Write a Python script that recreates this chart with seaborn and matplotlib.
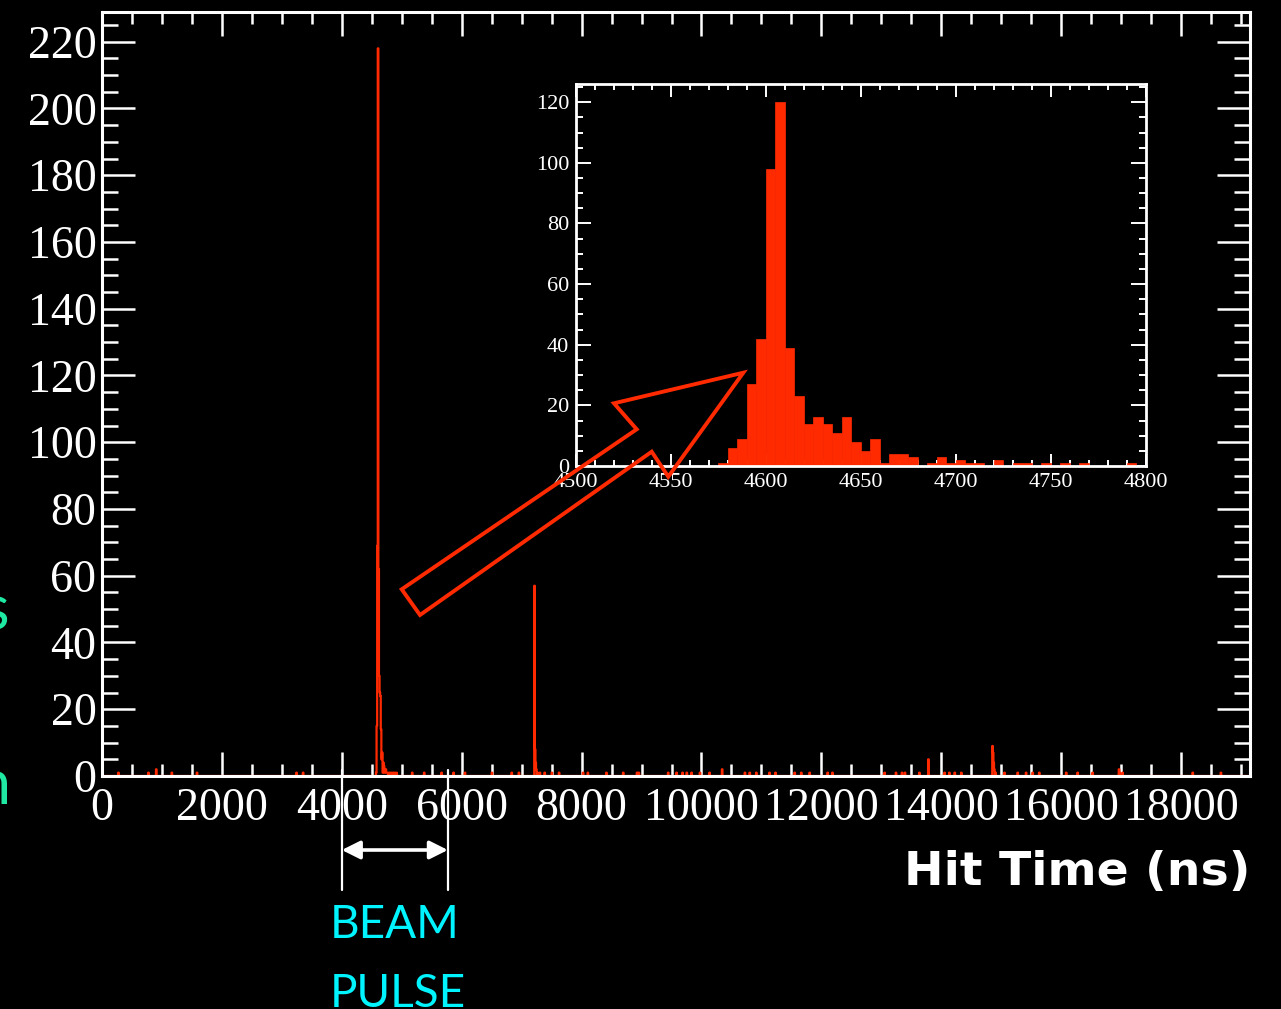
import numpy as np
import pandas as pd
import matplotlib
matplotlib.use("Agg")
import matplotlib.pyplot as plt
from matplotlib.patches import Polygon, FancyArrowPatch
from matplotlib.ticker import MultipleLocator
from matplotlib.transforms import blended_transform_factory
import seaborn as sns

# ---- data -------------------------------------------------------------
# full-range spectrum: lower edges of the non-empty 10 ns bins and their counts
main_time_ns = [
    270, 770, 900, 1160, 1580, 3240, 3350,
    4570, 4580, 4590, 4600, 4610, 4620, 4630, 4640, 4650, 4660, 4670, 4680,
    4690, 4700, 4710, 4720, 4730, 4740, 4750, 4760, 4790,
    4820, 4850, 4880, 4910,
    5170, 5370, 5660, 5860, 6050, 6500, 6830, 6950,
    7210, 7220, 7230, 7240, 7260, 7300, 7380, 7500, 7620,
    8020, 8100, 8410, 8690, 8920, 8950, 9440, 9580, 9680, 9750, 9830, 9970,
    10130, 10340, 10720, 10800, 10910, 11130, 11230, 11550, 11660, 11800,
    12100, 12180, 13050, 13240, 13340, 13390, 13630, 13780,
    14050, 14130, 14220, 14330, 14850, 14860, 14870, 14880, 14900,
    15050, 15270, 15410, 15520, 15630, 16080, 16270, 16520,
    16960, 16970, 17020, 18190, 18660,
]
main_counts = [
    1, 1, 2, 1, 1, 1, 1,
    1, 15, 69, 218, 62, 30, 25, 24, 14, 5, 7, 1,
    4, 3, 1, 2, 2, 1, 1, 1, 1,
    1, 1, 1, 1,
    1, 1, 1, 1, 1, 1, 1, 1,
    57, 8, 4, 2, 1, 1, 1, 1, 1,
    1, 1, 1, 1, 1, 1, 1, 1, 1, 1, 1, 1,
    1, 2, 1, 1, 1, 1, 1, 1, 1, 1,
    1, 1, 1, 1, 1, 1, 1, 5,
    1, 1, 1, 1, 9, 7, 4, 2, 1,
    1, 1, 1, 1, 1, 1, 1, 1,
    2, 1, 1, 1, 1,
]

# zoom on the beam peak: lower edges of the non-empty 5 ns bins and counts
inset_time_ns = [
    4575, 4580, 4585, 4590, 4595, 4600, 4605, 4610, 4615, 4620, 4625, 4630,
    4635, 4640, 4645, 4650, 4655, 4660, 4665, 4670, 4675, 4685, 4690, 4695,
    4700, 4705, 4710, 4720, 4730, 4735, 4745, 4755, 4765, 4790,
]
inset_counts = [
    1, 6, 9, 27, 42, 98, 120, 39, 23, 14, 16, 14,
    11, 16, 8, 5, 9, 1, 4, 4, 3, 1, 3, 1,
    2, 1, 1, 2, 1, 1, 1, 1, 1, 1,
]

x_ticks_main = [0, 2000, 4000, 6000, 8000, 10000, 12000, 14000, 16000, 18000]
y_ticks_main = [0, 20, 40, 60, 80, 100, 120, 140, 160, 180, 200, 220]
x_ticks_inset = [4500, 4550, 4600, 4650, 4700, 4750, 4800]
y_ticks_inset = [0, 20, 40, 60, 80, 100, 120]

beam_window_ns = [4000, 5770]

# ---- style ------------------------------------------------------------
sns.set_theme(style="ticks")
plt.rcParams.update({
    "figure.facecolor": "black",
    "axes.facecolor": "black",
    "savefig.facecolor": "black",
    "axes.edgecolor": "white",
    "xtick.color": "white",
    "ytick.color": "white",
    "text.color": "white",
})
plt.rcParams["font.family"] = ["Liberation Serif", "DejaVu Serif"]

RED = "#ff2a00"
W, H = 1281, 1009


def fx(px):
    return px / W


def fy(py):
    return 1 - py / H


fig = plt.figure(figsize=(W / 100, H / 100), dpi=100)

# ---- main histogram ---------------------------------------------------
main_df = pd.DataFrame({"t": np.asarray(main_time_ns, float) + 5.0,
                        "n": np.asarray(main_counts, float)})
ax = fig.add_axes([fx(102), fy(776), fx(1250) - fx(102), fy(12) - fy(776)])
main_edges = [float(e) for e in np.arange(0, 19210, 10)]
sns.histplot(data=main_df, x="t", weights="n", bins=main_edges,
             element="step", fill=False, color=RED, linewidth=1.6, ax=ax)
ax.set_xlim(0, 19150)
ax.set_ylim(0, 228.9)
ax.set_xlabel("")
ax.set_ylabel("")
ax.set_xticks(x_ticks_main)
ax.set_yticks(y_ticks_main)
ax.xaxis.set_minor_locator(MultipleLocator(500))
ax.yaxis.set_minor_locator(MultipleLocator(5))
for s in ax.spines.values():
    s.set_visible(True)
    s.set_linewidth(2.2)
    s.set_color("white")
ax.tick_params(which="both", direction="in", top=True, right=True, colors="white")
ax.tick_params(axis="x", which="major", length=17, width=1.8, labelsize=33, pad=8)
ax.tick_params(axis="x", which="minor", length=8.6, width=1.8)
ax.tick_params(axis="y", which="major", length=23.5, width=1.8, labelsize=33, pad=4)
ax.tick_params(axis="y", which="minor", length=11.5, width=1.8)

# ---- inset: 5 ns bins around the beam peak ----------------------------
inset_df = pd.DataFrame({"t": np.asarray(inset_time_ns, float) + 2.5,
                         "n": np.asarray(inset_counts, float)})
axin = fig.add_axes([fx(576), fy(466), fx(1146) - fx(576), fy(84) - fy(466)])
inset_edges = [float(e) for e in np.arange(4500, 4805, 5)]
sns.histplot(data=inset_df, x="t", weights="n", bins=inset_edges,
             element="bars", fill=True, color=RED, alpha=1.0,
             edgecolor=RED, linewidth=0.5, ax=axin)
axin.set_xlim(4500, 4800)
axin.set_ylim(0, 126)
axin.set_xlabel("")
axin.set_ylabel("")
axin.set_xticks(x_ticks_inset)
axin.set_yticks(y_ticks_inset)
axin.xaxis.set_minor_locator(MultipleLocator(10))
axin.yaxis.set_minor_locator(MultipleLocator(5))
for s in axin.spines.values():
    s.set_visible(True)
    s.set_linewidth(2.0)
    s.set_color("white")
axin.tick_params(which="both", direction="in", top=True, right=True, colors="white")
axin.tick_params(axis="x", which="major", length=9, width=1.4, labelsize=16, pad=5)
axin.tick_params(axis="x", which="minor", length=4.5, width=1.4)
axin.tick_params(axis="y", which="major", length=10.8, width=1.4, labelsize=16, pad=5)
axin.tick_params(axis="y", which="minor", length=5, width=1.4)

# ---- hollow arrow pointing from the peak to the zoom ------------------
arrow_px = [(401.7, 589.3), (636.7, 429.3), (614.0, 403.3), (743.3, 372.7),
            (668.3, 476.7), (651.7, 451.7), (420.0, 615.0)]
arrow = Polygon([(fx(x), fy(y)) for x, y in arrow_px], closed=True, fill=False,
                edgecolor=RED, linewidth=2.8, joinstyle="miter",
                transform=fig.transFigure, zorder=20)
fig.add_artist(arrow)

# ---- axis title -------------------------------------------------------
fig.text(fx(1250), fy(885), "Hit Time (ns)", ha="right", va="baseline",
         fontsize=34, fontweight="bold", color="white", family=["DejaVu Sans"])

# ---- beam pulse window marker -----------------------------------------
tr = blended_transform_factory(ax.transData, fig.transFigure)
for xb in beam_window_ns:
    ax.plot([xb, xb], [fy(770), fy(890)], color="white", lw=1.6,
            transform=tr, clip_on=False, zorder=10)
ax.add_patch(FancyArrowPatch((beam_window_ns[0], fy(850)), (beam_window_ns[1], fy(850)),
                             arrowstyle="<|-|>,head_length=11,head_width=5.5",
                             color="white", lw=2.6, transform=tr, clip_on=False,
                             shrinkA=0, shrinkB=0, mutation_scale=1))
fig.text(fx(330), fy(938), "BEAM", ha="left", va="baseline", fontsize=33,
         color="#00f4ff", family=["Lato", "DejaVu Sans"])
fig.text(fx(330), fy(1007), "PULSE", ha="left", va="baseline", fontsize=33,
         color="#00f4ff", family=["Lato", "DejaVu Sans"])

# ---- slide text running off the left edge -----------------------------
fig.text(fx(9), fy(630), "s", ha="right", va="baseline", fontsize=44,
         color="#1fe8a2", family=["Lato", "DejaVu Sans"])
fig.text(fx(11), fy(804), "n", ha="right", va="baseline", fontsize=44,
         color="#1fe8a2", family=["Lato", "DejaVu Sans"])

fig.savefig("out.png", dpi=100)
